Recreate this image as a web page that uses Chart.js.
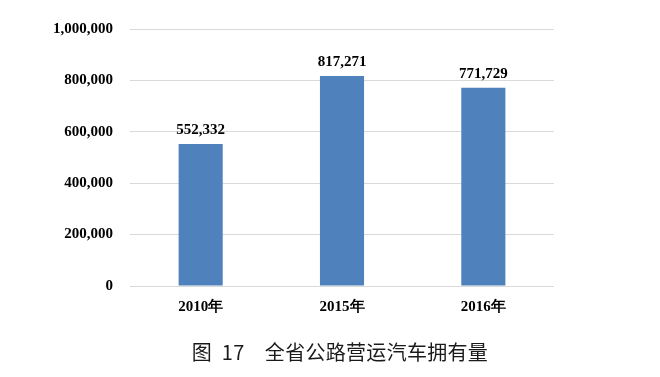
<html>
<head>
<meta charset="UTF-8">
<title>全省公路营运汽车拥有量</title>
<script src="https://cdn.jsdelivr.net/npm/chart.js"></script>
<style>
  body { margin: 0; background: #fff; }
  #wrap { width: 660px; height: 377px; }
</style>
</head>
<body>
<div id="wrap"><canvas id="chart" width="660" height="377"></canvas></div>
<script>
// data
const years = ["2010年", "2015年", "2016年"];
const vehicles = [552332, 817271, 771729];
const yTicks = [0, 200000, 400000, 600000, 800000, 1000000];
const caption = "图  17　全省公路营运汽车拥有量";

const serifBold = { family: "'Liberation Serif', 'Times New Roman', serif", size: 15, weight: "bold" };

function fmt(v) {
  return v.toLocaleString("en-US");
}

// value labels above bars + caption under chart
const extras = {
  id: "extras",
  afterDatasetsDraw(chart) {
    const ctx = chart.ctx;
    const meta = chart.getDatasetMeta(0);
    ctx.save();
    ctx.fillStyle = "#000";
    ctx.font = "bold 15px 'Liberation Serif', serif";
    ctx.textAlign = "center";
    ctx.textBaseline = "bottom";
    meta.data.forEach((bar, i) => {
      ctx.fillText(fmt(vehicles[i]), bar.x, bar.y - 6);
    });
    ctx.font = "20px 'Noto Sans CJK SC', sans-serif";
    ctx.fillStyle = "#1a1a1a";
    ctx.textBaseline = "middle";
    ctx.letterSpacing = "0.3px";
    const a = chart.chartArea;
    ctx.fillText(caption, (a.left + a.right) / 2 - 2, 352);
    ctx.restore();
  }
};

new Chart(document.getElementById("chart"), {
  type: "bar",
  data: {
    labels: years,
    datasets: [{
      data: vehicles,
      backgroundColor: "#4f81bd",
      categoryPercentage: 1,
      barPercentage: 0.312
    }]
  },
  options: {
    responsive: false,
    animation: false,
    layout: { padding: { left: 0, right: 106, top: 29, bottom: 61 } },
    plugins: {
      legend: { display: false },
      tooltip: { enabled: false }
    },
    scales: {
      x: {
        grid: { display: false },
        border: { display: false },
        ticks: { color: "#000", font: serifBold, padding: 4 },
        afterFit(s) { s.height = 30; }
      },
      y: {
        min: 0,
        max: 1000000,
        afterBuildTicks(s) { s.ticks = yTicks.map(v => ({ value: v })); },
        grid: { color: "#d9d9d9", drawTicks: false },
        border: { display: false },
        ticks: { color: "#000", font: serifBold, padding: 17, callback: v => fmt(v) },
        afterFit(s) { s.width = 130; }
      }
    }
  },
  plugins: [extras]
});
</script>
</body>
</html>
